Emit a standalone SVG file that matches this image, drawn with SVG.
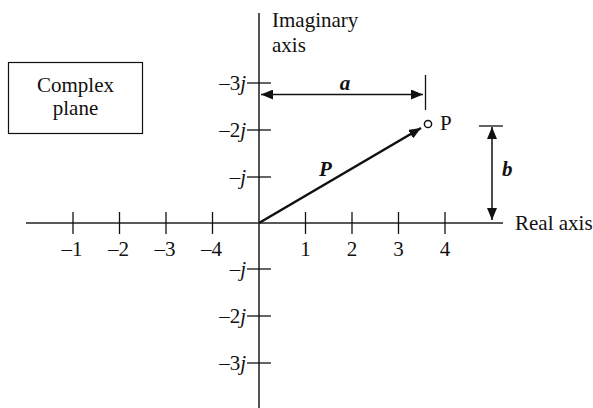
<svg xmlns="http://www.w3.org/2000/svg" width="593" height="408" viewBox="0 0 593 408">
<style>
text{font-family:"Liberation Serif","Times New Roman",serif;font-size:21px;fill:#111}
.it{font-style:italic}
.bi{font-style:italic;font-weight:bold}
.mid{text-anchor:middle}
.end{text-anchor:end}
.tk{stroke:#111;stroke-width:1.3;fill:none}
.ln{stroke:#111;stroke-width:1.5;fill:none}
</style>
<defs>
<marker id="ah" markerWidth="12" markerHeight="10" refX="12" refY="5" orient="auto-start-reverse" markerUnits="userSpaceOnUse">
<path d="M0,0 L12,5 L0,10 Z" fill="#111"/>
</marker>
</defs>
<rect width="593" height="408" fill="#fff"/>
<g id="label-box">
<rect x="8.5" y="62.5" width="134" height="71" fill="none" stroke="#111" stroke-width="1.2"/>
<text class="mid" x="75.5" y="92">Complex</text>
<text class="mid" x="75.5" y="115">plane</text>
</g>
<g id="axes">
<line x1="259" y1="13" x2="259" y2="408" stroke="#555" stroke-width="2"/>
<line x1="26" y1="223" x2="503" y2="223" stroke="#222" stroke-width="1.5"/>
<text x="272" y="27">Imaginary</text>
<text x="272" y="52">axis</text>
<text x="515" y="230">Real axis</text>
</g>
<g id="real-ticks" class="tk">
<line x1="73" y1="212" x2="73" y2="234"/>
<line x1="119.5" y1="212" x2="119.5" y2="234"/>
<line x1="166" y1="212" x2="166" y2="234"/>
<line x1="212.5" y1="212" x2="212.5" y2="234"/>
<line x1="305.5" y1="212" x2="305.5" y2="234"/>
<line x1="352" y1="212" x2="352" y2="234"/>
<line x1="398.5" y1="212" x2="398.5" y2="234"/>
<line x1="445" y1="212" x2="445" y2="234"/>
</g>
<g id="real-labels">
<text class="mid" x="72" y="256">–1</text>
<text class="mid" x="118.5" y="256">–2</text>
<text class="mid" x="165" y="256">–3</text>
<text class="mid" x="211.5" y="256">–4</text>
<text class="mid" x="305.5" y="256">1</text>
<text class="mid" x="352" y="256">2</text>
<text class="mid" x="398.5" y="256">3</text>
<text class="mid" x="445" y="256">4</text>
</g>
<g id="imag-ticks" class="tk">
<line x1="247" y1="83" x2="271" y2="83"/>
<line x1="247" y1="130" x2="271" y2="130"/>
<line x1="247" y1="177" x2="271" y2="177"/>
<line x1="247" y1="269" x2="271" y2="269"/>
<line x1="247" y1="316" x2="271" y2="316"/>
<line x1="247" y1="363" x2="271" y2="363"/>
</g>
<g id="imag-labels">
<text class="end" x="246" y="90">–3<tspan class="it">j</tspan></text>
<text class="end" x="246" y="137">–2<tspan class="it">j</tspan></text>
<text class="end" x="246" y="184">–<tspan class="it">j</tspan></text>
<text class="end" x="246" y="276">–<tspan class="it">j</tspan></text>
<text class="end" x="246" y="323">–2<tspan class="it">j</tspan></text>
<text class="end" x="246" y="370">–3<tspan class="it">j</tspan></text>
</g>
<g id="point-P">
<circle cx="428" cy="124" r="3.6" fill="#fff" stroke="#111" stroke-width="1.5"/>
<text x="440" y="130">P</text>
</g>
<g id="connectors">
<line x1="259" y1="223" x2="421" y2="128" stroke="#111" stroke-width="2.6" marker-end="url(#ah)"/>
<line class="ln" x1="261" y1="94.5" x2="423" y2="94.5" marker-start="url(#ah)" marker-end="url(#ah)"/>
<line class="tk" x1="425.5" y1="75" x2="425.5" y2="110"/>
<line class="ln" x1="492" y1="127" x2="492" y2="220" marker-start="url(#ah)" marker-end="url(#ah)"/>
<line class="tk" x1="479" y1="126" x2="503" y2="126"/>
</g>
<g id="dim-labels">
<text class="bi mid" x="345" y="90">a</text>
<text class="bi" x="319" y="176">P</text>
<text class="bi" x="502" y="176">b</text>
</g>
</svg>
